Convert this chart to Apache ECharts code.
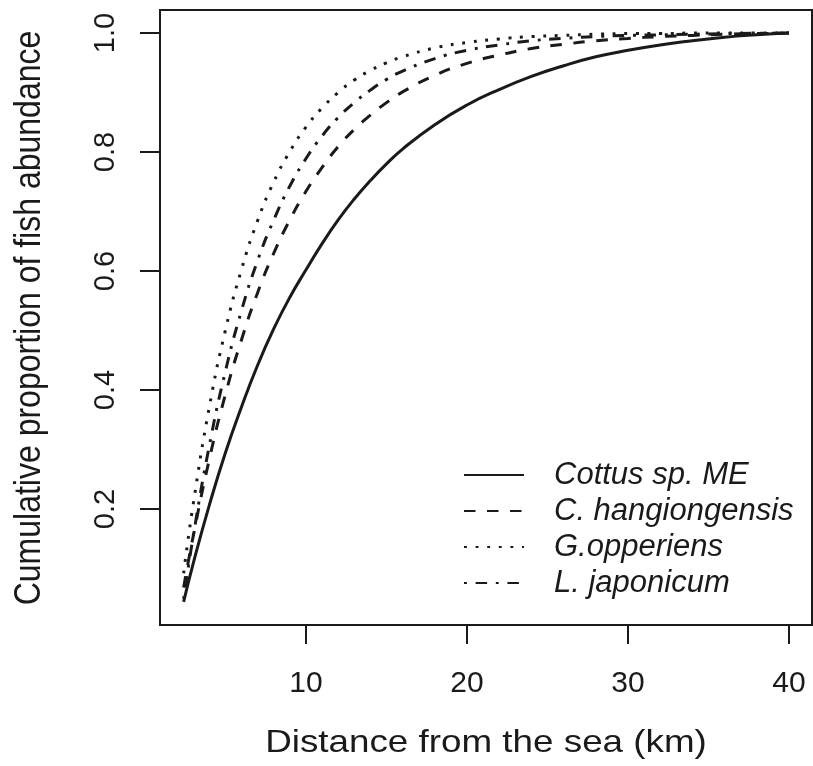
<!DOCTYPE html>
<html>
<head>
<meta charset="utf-8">
<script src="https://cdn.jsdelivr.net/npm/echarts@6/dist/echarts.min.js"></script>
<style>html,body{margin:0;padding:0;background:#fff}#c{width:813px;height:766px}</style>
</head>
<body>
<div id="c"></div>
<script>
const distance = [2.4, 3, 4, 5, 6, 7, 8, 9, 10, 11, 12, 13, 14, 15, 16, 18, 20, 22, 24, 26, 28, 30, 32, 34, 36, 38, 40];
const cottus = [0.044, 0.109, 0.207, 0.295, 0.372, 0.442, 0.503, 0.556, 0.602, 0.646, 0.686, 0.721, 0.752, 0.780, 0.805, 0.846, 0.879, 0.905, 0.927, 0.945, 0.960, 0.971, 0.980, 0.987, 0.993, 0.997, 1.0];
const hangiongensis = [0.068, 0.155, 0.284, 0.393, 0.485, 0.564, 0.630, 0.686, 0.734, 0.774, 0.809, 0.838, 0.862, 0.883, 0.901, 0.929, 0.949, 0.963, 0.974, 0.981, 0.987, 0.991, 0.994, 0.996, 0.998, 0.999, 1.0];
const opperiens = [0.092, 0.209, 0.372, 0.501, 0.603, 0.685, 0.750, 0.801, 0.842, 0.874, 0.900, 0.921, 0.937, 0.950, 0.960, 0.975, 0.984, 0.990, 0.994, 0.996, 0.998, 0.999, 0.999, 1.0, 1.0, 1.0, 1.0];
const japonicum = [0.049, 0.155, 0.307, 0.432, 0.534, 0.618, 0.686, 0.743, 0.789, 0.827, 0.858, 0.883, 0.904, 0.922, 0.936, 0.957, 0.971, 0.980, 0.987, 0.991, 0.994, 0.996, 0.997, 0.998, 0.999, 0.9995, 1.0];
const seriesNames = ['Cottus sp. ME', 'C. hangiongensis', 'G.opperiens', 'L. japonicum'];
const xTicks = [10, 20, 30, 40];
const yTicks = [0.2, 0.4, 0.6, 0.8, 1.0];
const xTitle = 'Distance from the sea (km)';
const yTitle = 'Cumulative proportion of fish abundance';

const ink = '#1a1a1a';
const sans = '"Liberation Sans", Arial, sans-serif';
const dashes = ['solid', [11.5, 11.5], [2.9, 8.7], [2.9, 8.7, 11.5, 8.7]];
const values = [cottus, hangiongensis, opperiens, japonicum];

const chart = echarts.init(document.getElementById('c'), null, {renderer: 'canvas'});
chart.setOption({
  animation: false,
  backgroundColor: '#fff',
  grid: {left: 160, right: 1, top: 10, bottom: 141, show: true, borderColor: ink, borderWidth: 2,
    backgroundColor: 'transparent', containLabel: false, outerBoundsMode: 'none'},
  xAxis: {
    type: 'value', min: 0.932, max: 41.43,
    axisLine: {show: false},
    axisTick: {show: true, length: 19, lineStyle: {color: ink, width: 2}, customValues: xTicks},
    axisLabel: {customValues: xTicks, fontFamily: sans, fontSize: 30, color: ink, margin: 44},
    splitLine: {show: false}
  },
  yAxis: {
    type: 'value', min: 0.005, max: 1.0387,
    axisLine: {show: false},
    axisTick: {show: true, length: 20, lineStyle: {color: ink, width: 2}, customValues: yTicks},
    axisLabel: {customValues: yTicks, rotate: 90, fontFamily: sans, fontSize: 29, color: ink, margin: 40,
      formatter: v => v.toFixed(1)},
    splitLine: {show: false}
  },
  graphic: [
    {type: 'text', x: 486, y: 743, scaleX: 1.15,
      style: {text: xTitle, fill: ink, fontFamily: sans, fontSize: 32, align: 'center', verticalAlign: 'middle', textAlign: 'center', textVerticalAlign: 'middle'}},
    {type: 'text', x: 30, y: 318, rotation: Math.PI / 2, scaleY: 1.15,
      style: {text: yTitle, fill: ink, fontFamily: sans, fontSize: 32, align: 'center', verticalAlign: 'middle', textAlign: 'center', textVerticalAlign: 'middle'}}
  ],
  legend: {
    orient: 'vertical', left: 463, top: 457, padding: 0, itemWidth: 60, itemHeight: 36, itemGap: 0,
    itemStyle: {color: 'transparent', borderColor: 'transparent', borderWidth: 0, opacity: 0},
    textStyle: {fontFamily: sans, fontStyle: 'italic', fontSize: 31, color: ink, lineHeight: 36, padding: [0, 0, 0, 25]},
    data: seriesNames
  },
  series: seriesNames.map((n, i) => ({
    name: n, type: 'line', showSymbol: false, symbol: 'none', smooth: true,
    data: distance.map((d, j) => [d, values[i][j]]),
    lineStyle: {color: ink, width: 3, type: dashes[i], cap: 'butt'},
    itemStyle: {color: ink}
  }))
});
</script>
</body>
</html>
